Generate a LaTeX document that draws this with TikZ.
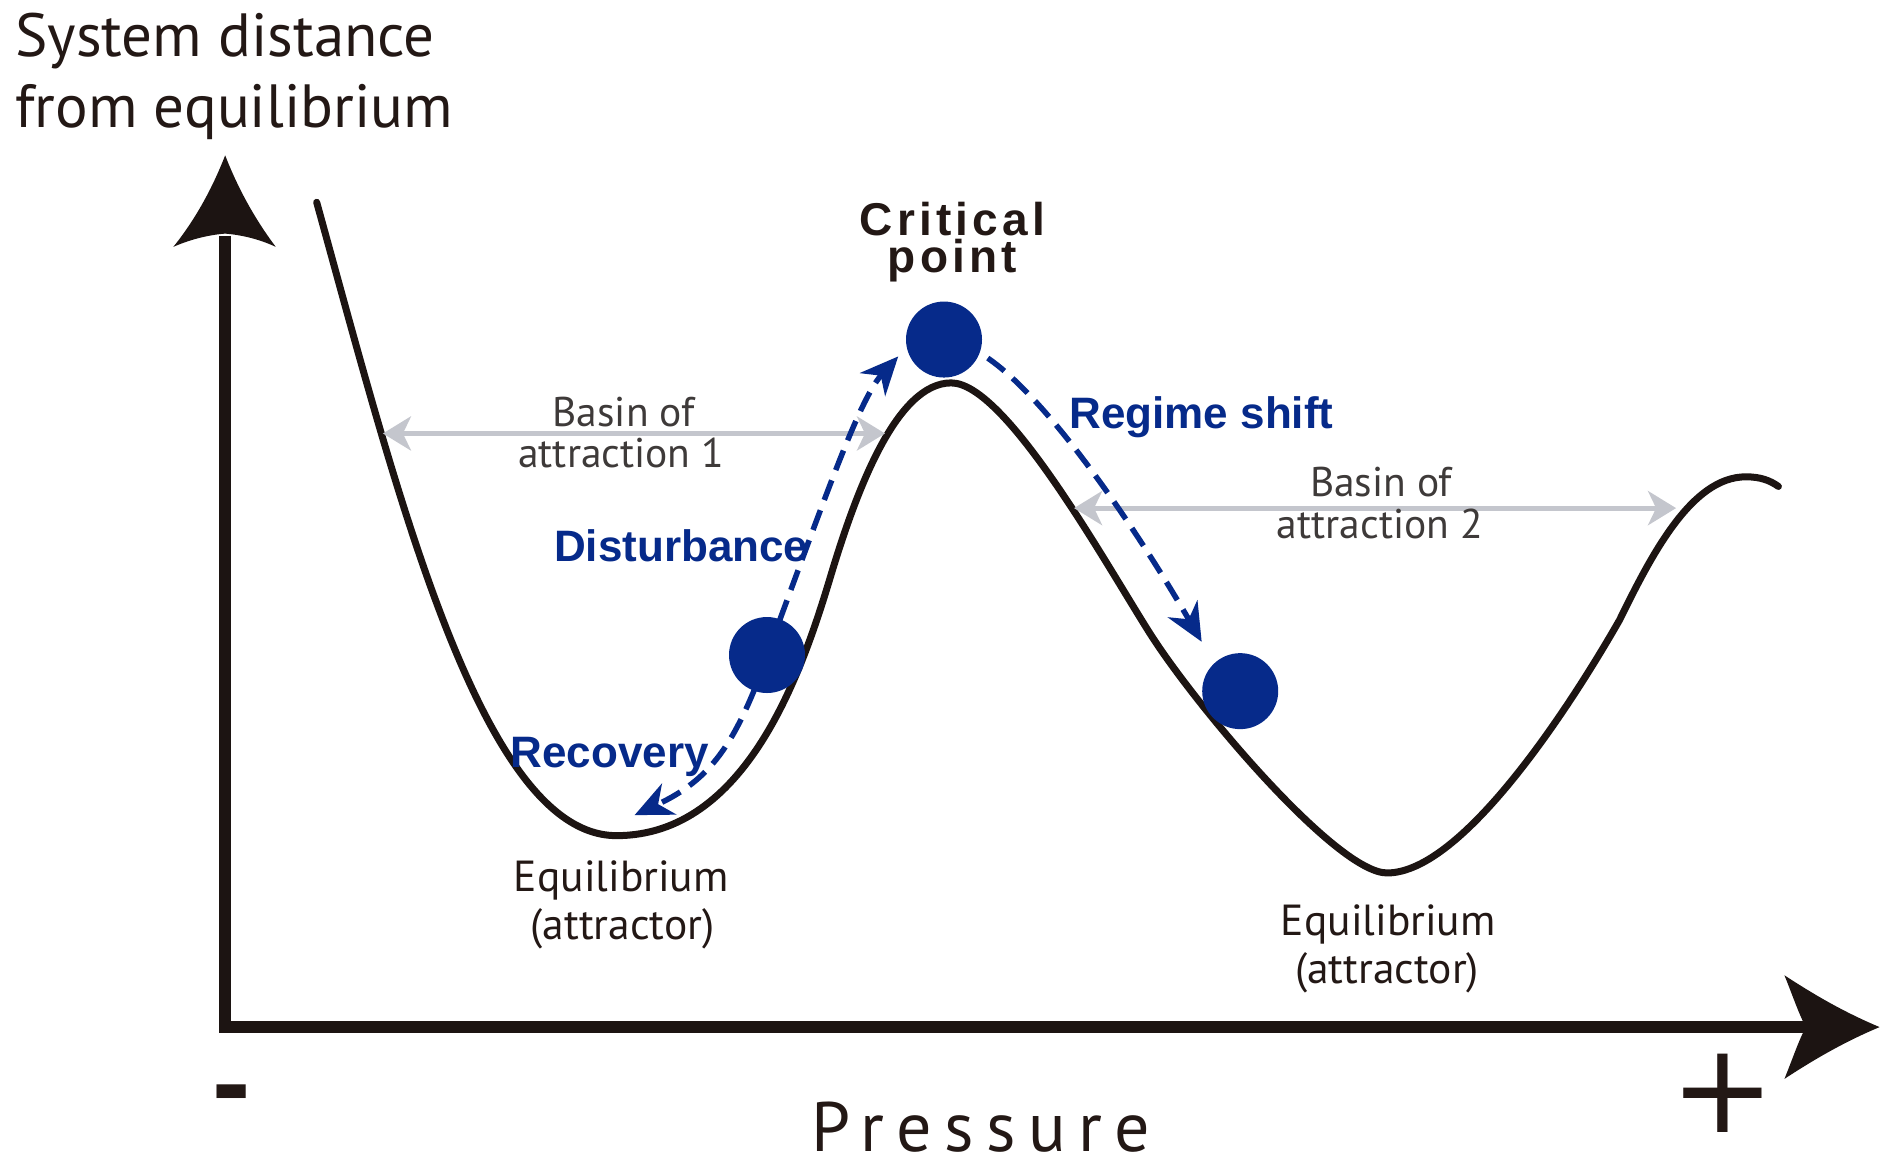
\documentclass[tikz,border=0pt]{standalone}
\usepackage{fontspec}
\setmainfont{PT Sans}
\newfontfamily\hv{Liberation Sans}
\newfontfamily\dv{DejaVu Sans}
\usetikzlibrary{arrows.meta}
\definecolor{ink}{RGB}{28,20,18}
\definecolor{navy}{RGB}{6,42,138}
\definecolor{grayc}{RGB}{196,198,205}
\definecolor{basintext}{RGB}{62,58,57}
\definecolor{labtext}{RGB}{35,24,21}
\tikzset{
  curveline/.style={draw=ink, line width=7pt, line cap=round, line join=round},
  axisline/.style={draw=ink, line width=12pt, line join=miter},
  axishead/.style={fill=ink, draw=none},
  basinarrow/.style={draw=grayc, line width=5pt,
     {Stealth[length=28pt,width=34pt,inset=8pt]}-{Stealth[length=28pt,width=34pt,inset=8pt]}},
  flow/.style={draw=navy, line width=5.5pt, dash pattern=on 21pt off 11pt,
     -{Stealth[length=38pt,width=34pt,inset=12pt]}},
  ball/.style={circle, fill=navy, minimum size=76pt, inner sep=0pt},
  bluelab/.style={text=navy, font={\hv\bfseries\fontsize{44}{50}\selectfont}, inner sep=0pt, anchor=base west},
  critlab/.style={text=labtext, font={\hv\bfseries\fontsize{46}{37.3}\selectfont\addfontfeature{LetterSpace=9}}, inner sep=0pt, align=center, anchor=base},
  basinlab/.style={text=basintext, font={\fontsize{41.5}{46}\selectfont}, inner sep=0pt, anchor=base},
  eqlab/.style={text=labtext, font={\fontsize{43.5}{48}\selectfont}, inner sep=0pt, anchor=base},
  axislab/.style={text=labtext, font={\fontsize{61}{70}\selectfont}, inner sep=0pt, anchor=base west},
}
\begin{document}
\begin{tikzpicture}[x=1.2041pt,y=-1.2041pt]
\useasboundingbox (0,0) rectangle (1568,970);

% axes
\coordinate (origin) at (187,853);
\coordinate (ytop) at (187,196);
\coordinate (xend) at (1502,853);
\draw[axisline] (ytop) -- (origin) -- (xend);
\fill[axishead] (187,129) .. controls (175,160) and (160,185) .. (144,205)
   .. controls (160,198) and (175,195) .. (187,194)
   .. controls (199,195) and (214,198) .. (229,205)
   .. controls (214,185) and (199,160) .. (187,129) -- cycle;
\fill[axishead] (1561,853) .. controls (1530,840) and (1505,825) .. (1482,810)
   .. controls (1490,830) and (1495,845) .. (1500,853)
   .. controls (1495,861) and (1490,876) .. (1482,896)
   .. controls (1505,881) and (1530,866) .. (1561,853) -- cycle;

% potential curve
\draw[curveline] (263,168)
   .. controls (330,410) and (400,694) .. (512,694)
   .. controls (620,694) and (666,558) .. (690,478)
   .. controls (712,405) and (745,318) .. (790,318)
   .. controls (835,318) and (917,466) .. (955,526)
   .. controls (993,586) and (1110,725) .. (1152,725)
   .. controls (1215,725) and (1305,585) .. (1345,515)
   .. controls (1372,460) and (1405,396) .. (1450,396)
   .. controls (1462,396) and (1470,399) .. (1477,404);

% basins
\coordinate (b1l) at (318,360);
\coordinate (b1r) at (735,360);
\coordinate (b2l) at (892,422);
\coordinate (b2r) at (1392,422);
\draw[basinarrow] (b1l) -- (b1r);
\draw[basinarrow] (b2l) -- (b2r);

% flows (drawn first, balls on top)
\coordinate (d1c) at (784,282);
\coordinate (d2c) at (637,544);
\coordinate (distend) at (746,296);
\coordinate (recend) at (527,677);
\coordinate (rsend) at (998,533);
\draw[flow] (d2c) ++(10.6,-29.1) .. controls (690,400) and (715,330) .. (distend);
\draw[flow] (d2c) ++(-10.6,29.1) .. controls (605,625) and (585,650) .. (recend);
\draw[flow, shorten <=10pt] (d1c) ++(29.5,10.7) .. controls (875,335) and (950,450) .. (rsend);

% balls
\node[ball] (d1) at (d1c) {};
\node[ball] (d2) at (d2c) {};
\node[ball] (d3) at (1030,574) {};

% labels
\node[axislab] (ylab1) at (12.5,47) {System distance};
\node[axislab] (ylab2) at (12.5,106) {from equilibrium};
\node[critlab] (crit) at (791,226.5) {Critical\\point};
\node[bluelab] (regime) at (888,356) {Regime shift};
\node[bluelab] (disturb) at (460,466) {Disturbance};
\node[bluelab] (recov) at (424,637) {Recovery};
\node[basinlab] (ba1) at (518,354) {Basin of};
\node[basinlab] (ba2) at (516,388) {attraction 1};
\node[basinlab] (bb1) at (1147,412) {Basin of};
\node[basinlab] (bb2) at (1146,447) {attraction 2};
\node[eqlab] (eqa1) at (516,740) {Equilibrium};
\node[eqlab] (eqa2) at (517,780) {(attractor)};
\node[eqlab] (eqb1) at (1153,777) {Equilibrium};
\node[eqlab] (eqb2) at (1152,817) {(attractor)};
\node[text=labtext, font={\hv\bfseries\fontsize{115}{115}\selectfont}, inner sep=0pt] (minus) at (192,916) {-};
\node[text=labtext, font={\dv\fontsize{125}{125}\selectfont}, inner sep=0pt, anchor=base] (plus) at (1430.5,940.5) {+};
\node[text=labtext, font={\fontsize{70}{80}\selectfont\addfontfeature{LetterSpace=17.6}}, inner sep=0pt, anchor=base west] (press) at (674,956) {Pressure};
\end{tikzpicture}
\end{document}
